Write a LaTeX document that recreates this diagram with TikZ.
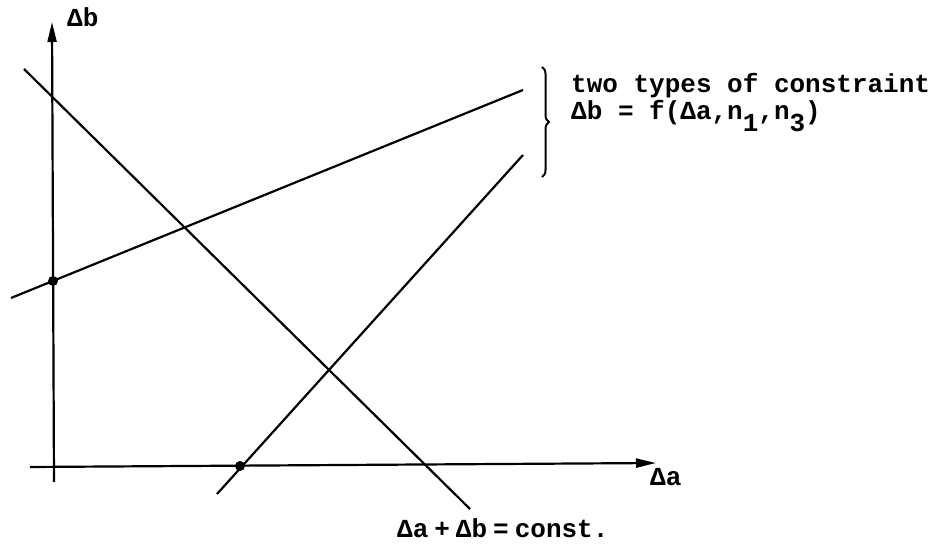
\documentclass[tikz,border=0pt]{standalone}
\usepackage{fontspec}
\setmonofont{Liberation Mono}
\usetikzlibrary{arrows.meta,decorations.pathreplacing}
\tikzset{
  ln/.style={line width=2.2pt},
  ax/.style={line width=2.2pt,-{Triangle[length=20pt,width=9pt]}},
  dotnode/.style={circle,fill=black,inner sep=0pt,minimum size=10pt},
  lbl/.style={inner sep=0pt,font=\fontsize{26}{26}\selectfont\ttfamily\bfseries},
}
\begin{document}
\begin{tikzpicture}[x=1pt,y=-1pt]
\useasboundingbox (0,0) rectangle (935,545);
% axes
\coordinate (vb) at (54,482);
\coordinate (vt) at (52,22);
\coordinate (hl) at (30,467);
\coordinate (hr) at (656,463);
\draw[ax] (vb) -- (vt);
\draw[ax] (hl) -- (hr);
\node[lbl,anchor=base west] (lb) at (67,27) {Δb};
\node[lbl,anchor=base west] (la) at (650,485) {Δa};
% line 1: decreasing
\coordinate (d1) at (24,69);
\coordinate (d2) at (470,509);
\draw[ln] (d1) -- (d2);
% line 2: shallow increasing
\coordinate (s1) at (11,298);
\coordinate (s2) at (523,90);
\draw[ln] (s1) -- (s2);
% line 3: steep increasing
\coordinate (t1) at (217,494);
\coordinate (t2) at (523,155);
\draw[ln] (t1) -- (t2);
% dots
\node[dotnode] (p1) at (53,281) {};
\node[dotnode] (p2) at (240,466) {};
% brace
\coordinate (bt) at (542,67);
\coordinate (bb) at (542,177);
\draw[line width=2pt,decorate,decoration={brace,amplitude=7pt}] (bt) -- (bb);
\node[lbl,anchor=base west,align=left] (tx1) at (571,93) {two types of constraint};
\node[lbl,anchor=base west] (tx2) at (571,120) {Δb = f(Δa,n\raisebox{-12pt}{1},n\raisebox{-12pt}{3})};
\node[lbl,anchor=base west] (cst) at (397,537) {Δa\hspace{6pt}+\hspace{6pt}Δb\hspace{6pt}=\hspace{6pt}const.};
\end{tikzpicture}
\end{document}
